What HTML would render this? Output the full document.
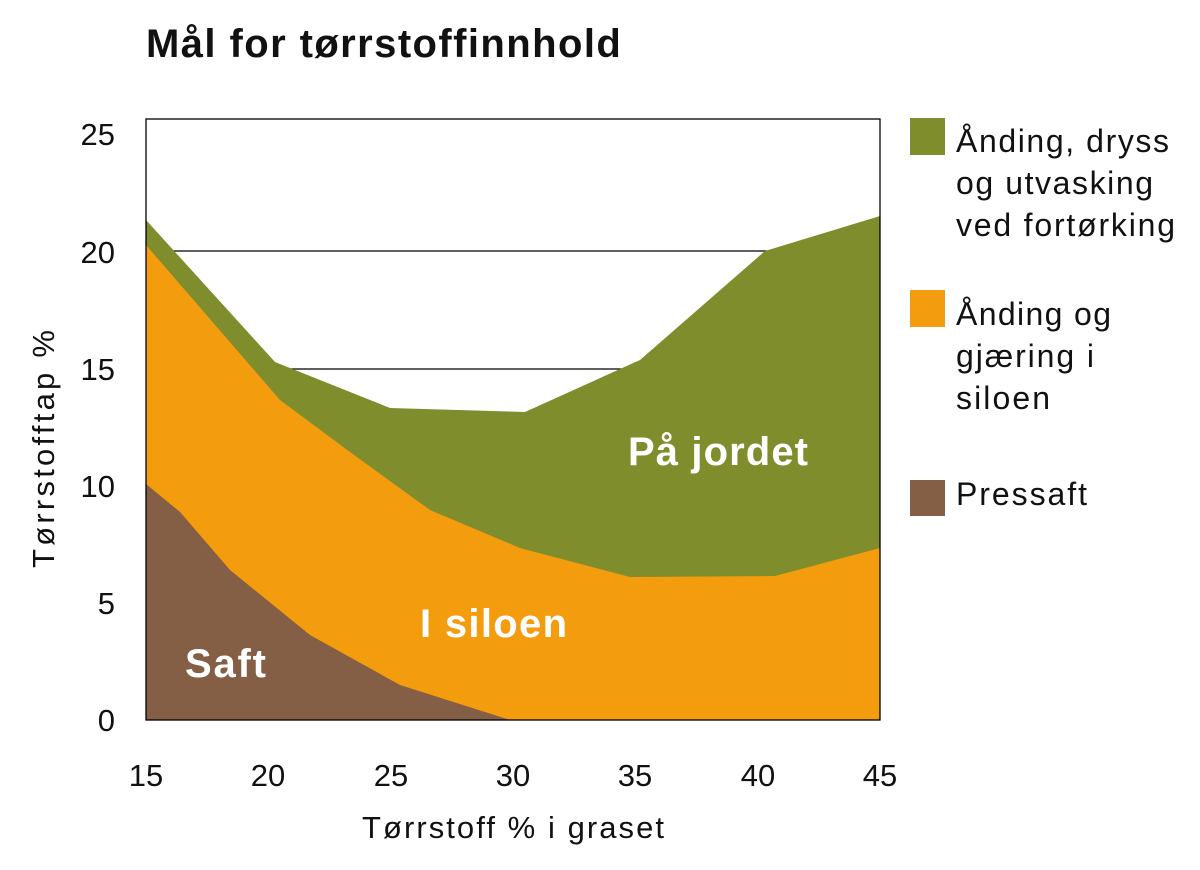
<!DOCTYPE html>
<html><head><meta charset="utf-8"><style>
body{margin:0;background:#fff;}
svg text{font-family:"Liberation Sans",sans-serif;}
</style></head><body>
<svg width="1200" height="865" xmlns="http://www.w3.org/2000/svg">
<rect width="1200" height="865" fill="#fff"/>
<text x="146" y="57" font-size="40" font-weight="bold" fill="#111" letter-spacing="1.2" textLength="476">Mål for tørrstoffinnhold</text>
<line x1="146" y1="251" x2="880" y2="251" stroke="#000" stroke-width="1.3"/>
<line x1="146" y1="369" x2="880" y2="369" stroke="#000" stroke-width="1.3"/>
<polygon fill="#7f8d2c" points="146,220 275,362 390,408 525,412 640,360 765,251 880,216 880,720 146,720"/>
<polygon fill="#f39c0d" points="146,245 280,400 350,452 430,510 520,548 630,577 775,576 880,548 880,720 146,720"/>
<polygon fill="#845e45" points="146,484 180,512 230,570 310,635 400,685 510,720 146,720"/>
<rect x="146" y="119" width="734" height="601" fill="none" stroke="#000" stroke-width="1.3"/>
<g font-size="31" fill="#111" text-anchor="end">
<text x="115" y="731">0</text><text x="115" y="614">5</text><text x="115" y="497">10</text>
<text x="115" y="380">15</text><text x="115" y="263">20</text><text x="115" y="145">25</text>
</g>
<g font-size="31" fill="#111" text-anchor="middle">
<text x="146" y="786">15</text><text x="268" y="786">20</text><text x="391" y="786">25</text>
<text x="513" y="786">30</text><text x="635" y="786">35</text><text x="758" y="786">40</text><text x="880" y="786">45</text>
</g>
<text x="362" y="838" font-size="31" fill="#111" textLength="302">Tørrstoff % i graset</text>
<text transform="translate(54,568) rotate(-90)" font-size="31" fill="#111" textLength="238">Tørrstofftap %</text>
<g font-size="40" font-weight="bold" fill="#fff">
<text x="185" y="677" textLength="81">Saft</text>
<text x="420" y="637" textLength="147">I siloen</text>
<text x="628" y="465" textLength="180">På jordet</text>
</g>
<rect x="910" y="118" width="35" height="37" fill="#7f8d2c"/>
<rect x="910" y="290" width="35" height="37" fill="#f39c0d"/>
<rect x="910" y="480" width="35" height="36" fill="#845e45"/>
<g font-size="32" fill="#111">
<text x="956" y="152" textLength="213">Ånding, dryss</text>
<text x="956" y="194" textLength="197">og utvasking</text>
<text x="956" y="236" textLength="219">ved fortørking</text>
<text x="956" y="325" textLength="155">Ånding og</text>
<text x="956" y="367" textLength="138">gjæring i</text>
<text x="956" y="409" textLength="94">siloen</text>
<text x="956" y="505" textLength="131">Pressaft</text>
</g>
</svg>
</body></html>
